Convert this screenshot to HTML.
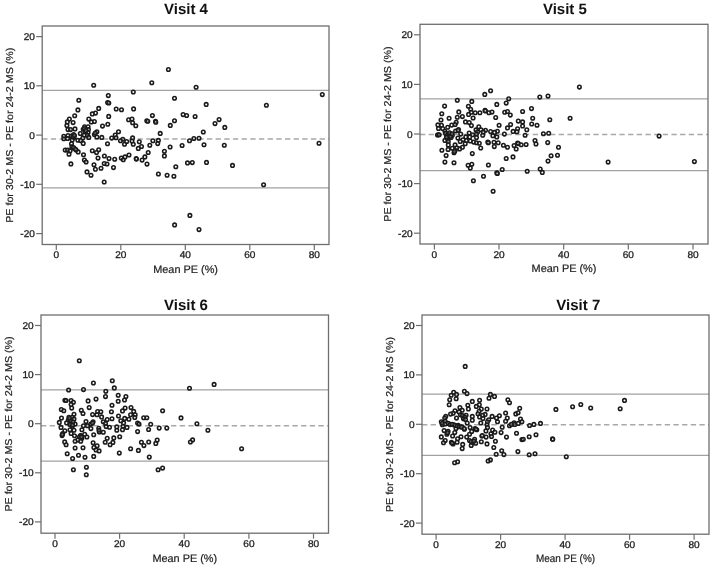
<!DOCTYPE html>
<html><head><meta charset="utf-8"><title>Bland-Altman plots</title>
<style>
html,body{margin:0;padding:0;background:#fff}
svg{display:block;will-change:transform;transform:translateZ(0)}
text{font-family:"Liberation Sans",Arial,sans-serif;fill:#222;text-rendering:geometricPrecision}
.t{font-size:15px;font-weight:bold;fill:#111}
.a{font-size:10px;fill:#222;stroke:#222;stroke-width:.2}
.x{font-size:10.9px;fill:#222;stroke:#222;stroke-width:.2}
.k{font-size:9.8px;fill:#222;stroke:#222;stroke-width:.3}
.f{fill:none;stroke:#6e6e6e;stroke-width:1.3}
.tk{stroke:#6e6e6e;stroke-width:1.2}
.l{stroke:#a2a2a2;stroke-width:1.25}
.d{stroke:#a8a8a8;stroke-width:1.4;stroke-dasharray:5.3 3.37}
.p{fill:#fff;fill-opacity:.3;stroke:#1a1a1a;stroke-width:1.55}
</style></head><body>
<svg width="712" height="567" viewBox="0 0 712 567">
<rect width="712" height="567" fill="#fff"/>
<g>
<text class="t" x="186.0" y="14.0" text-anchor="middle">Visit 4</text>
<line class="l" x1="42.2" x2="329.0" y1="90.3" y2="90.3"/>
<line class="l" x1="42.2" x2="329.0" y1="187.8" y2="187.8"/>
<line class="d" x1="42.2" x2="329.0" y1="139.0" y2="139.0"/>
<rect class="f" x="42.2" y="26.0" width="286.8" height="218.5"/>
<line class="tk" x1="36.2" x2="42.2" y1="36.6" y2="36.6"/>
<text class="k" transform="translate(34.9,40.1) scale(1.03,1)" text-anchor="end">20</text>
<line class="tk" x1="36.2" x2="42.2" y1="85.8" y2="85.8"/>
<text class="k" transform="translate(34.9,89.3) scale(1.03,1)" text-anchor="end">10</text>
<line class="tk" x1="36.2" x2="42.2" y1="135.1" y2="135.1"/>
<text class="k" transform="translate(34.9,138.6) scale(1.03,1)" text-anchor="end">0</text>
<line class="tk" x1="36.2" x2="42.2" y1="184.3" y2="184.3"/>
<text class="k" transform="translate(34.9,187.8) scale(1.03,1)" text-anchor="end">-10</text>
<line class="tk" x1="36.2" x2="42.2" y1="233.6" y2="233.6"/>
<text class="k" transform="translate(34.9,237.1) scale(1.03,1)" text-anchor="end">-20</text>
<line class="tk" x1="56.3" x2="56.3" y1="244.5" y2="250.0"/>
<text class="k" transform="translate(56.3,258.4) scale(1.03,1)" text-anchor="middle">0</text>
<line class="tk" x1="120.8" x2="120.8" y1="244.5" y2="250.0"/>
<text class="k" transform="translate(120.8,258.4) scale(1.03,1)" text-anchor="middle">20</text>
<line class="tk" x1="185.3" x2="185.3" y1="244.5" y2="250.0"/>
<text class="k" transform="translate(185.3,258.4) scale(1.03,1)" text-anchor="middle">40</text>
<line class="tk" x1="249.8" x2="249.8" y1="244.5" y2="250.0"/>
<text class="k" transform="translate(249.8,258.4) scale(1.03,1)" text-anchor="middle">60</text>
<line class="tk" x1="314.3" x2="314.3" y1="244.5" y2="250.0"/>
<text class="k" transform="translate(314.3,258.4) scale(1.03,1)" text-anchor="middle">80</text>
<text class="x" x="185.6" y="273.0" text-anchor="middle" textLength="64.8" lengthAdjust="spacingAndGlyphs">Mean PE (%)</text>
<text class="a" transform="translate(12.7,135.2) rotate(-90)" text-anchor="middle" textLength="175.2" lengthAdjust="spacingAndGlyphs">PE for 30-2 MS - PE for 24-2 MS (%)</text>
<circle class="p" cx="69.4" cy="119.1" r="1.78"/>
<circle class="p" cx="67.3" cy="121.9" r="1.78"/>
<circle class="p" cx="73.1" cy="122.6" r="1.78"/>
<circle class="p" cx="66.9" cy="125.4" r="1.78"/>
<circle class="p" cx="75.0" cy="128.9" r="1.78"/>
<circle class="p" cx="68.0" cy="129.6" r="1.78"/>
<circle class="p" cx="70.5" cy="129.6" r="1.78"/>
<circle class="p" cx="88.8" cy="119.1" r="1.78"/>
<circle class="p" cx="91.3" cy="121.9" r="1.78"/>
<circle class="p" cx="94.4" cy="121.5" r="1.78"/>
<circle class="p" cx="102.5" cy="126.1" r="1.78"/>
<circle class="p" cx="84.6" cy="126.8" r="1.78"/>
<circle class="p" cx="88.1" cy="126.8" r="1.78"/>
<circle class="p" cx="83.2" cy="129.3" r="1.78"/>
<circle class="p" cx="88.4" cy="129.6" r="1.78"/>
<circle class="p" cx="85.3" cy="131.8" r="1.78"/>
<circle class="p" cx="88.1" cy="132.5" r="1.78"/>
<circle class="p" cx="96.9" cy="131.8" r="1.78"/>
<circle class="p" cx="80.3" cy="133.5" r="1.78"/>
<circle class="p" cx="84.2" cy="135.3" r="1.78"/>
<circle class="p" cx="87.4" cy="135.3" r="1.78"/>
<circle class="p" cx="94.4" cy="134.6" r="1.78"/>
<circle class="p" cx="96.9" cy="137.0" r="1.78"/>
<circle class="p" cx="101.8" cy="137.4" r="1.78"/>
<circle class="p" cx="88.8" cy="137.4" r="1.78"/>
<circle class="p" cx="82.8" cy="138.1" r="1.78"/>
<circle class="p" cx="73.6" cy="134.6" r="1.78"/>
<circle class="p" cx="68.0" cy="135.6" r="1.78"/>
<circle class="p" cx="71.2" cy="136.0" r="1.78"/>
<circle class="p" cx="63.8" cy="136.3" r="1.78"/>
<circle class="p" cx="63.8" cy="138.8" r="1.78"/>
<circle class="p" cx="67.6" cy="138.5" r="1.78"/>
<circle class="p" cx="74.0" cy="137.4" r="1.78"/>
<circle class="p" cx="72.2" cy="139.9" r="1.78"/>
<circle class="p" cx="77.9" cy="140.2" r="1.78"/>
<circle class="p" cx="80.7" cy="140.6" r="1.78"/>
<circle class="p" cx="83.2" cy="143.4" r="1.78"/>
<circle class="p" cx="71.5" cy="143.7" r="1.78"/>
<circle class="p" cx="71.9" cy="146.9" r="1.78"/>
<circle class="p" cx="74.0" cy="148.3" r="1.78"/>
<circle class="p" cx="76.1" cy="150.1" r="1.78"/>
<circle class="p" cx="78.2" cy="151.9" r="1.78"/>
<circle class="p" cx="65.2" cy="150.1" r="1.78"/>
<circle class="p" cx="67.6" cy="150.1" r="1.78"/>
<circle class="p" cx="70.1" cy="150.8" r="1.78"/>
<circle class="p" cx="69.0" cy="154.3" r="1.78"/>
<circle class="p" cx="83.5" cy="154.7" r="1.78"/>
<circle class="p" cx="92.3" cy="150.8" r="1.78"/>
<circle class="p" cx="98.7" cy="149.7" r="1.78"/>
<circle class="p" cx="96.5" cy="152.6" r="1.78"/>
<circle class="p" cx="93.7" cy="85.3" r="1.78"/>
<circle class="p" cx="108.3" cy="95.6" r="1.78"/>
<circle class="p" cx="78.8" cy="100.3" r="1.78"/>
<circle class="p" cx="107.6" cy="102.6" r="1.78"/>
<circle class="p" cx="108.8" cy="103.0" r="1.78"/>
<circle class="p" cx="98.7" cy="108.4" r="1.78"/>
<circle class="p" cx="116.2" cy="109.0" r="1.78"/>
<circle class="p" cx="121.5" cy="109.7" r="1.78"/>
<circle class="p" cx="77.9" cy="109.9" r="1.78"/>
<circle class="p" cx="95.5" cy="113.1" r="1.78"/>
<circle class="p" cx="92.3" cy="113.9" r="1.78"/>
<circle class="p" cx="74.7" cy="115.7" r="1.78"/>
<circle class="p" cx="108.7" cy="116.4" r="1.78"/>
<circle class="p" cx="107.8" cy="124.3" r="1.78"/>
<circle class="p" cx="118.5" cy="131.7" r="1.78"/>
<circle class="p" cx="115.2" cy="135.0" r="1.78"/>
<circle class="p" cx="111.7" cy="138.1" r="1.78"/>
<circle class="p" cx="116.0" cy="137.8" r="1.78"/>
<circle class="p" cx="122.8" cy="139.2" r="1.78"/>
<circle class="p" cx="120.5" cy="140.7" r="1.78"/>
<circle class="p" cx="126.7" cy="141.5" r="1.78"/>
<circle class="p" cx="107.5" cy="143.7" r="1.78"/>
<circle class="p" cx="124.5" cy="144.3" r="1.78"/>
<circle class="p" cx="109.0" cy="158.6" r="1.78"/>
<circle class="p" cx="114.7" cy="159.2" r="1.78"/>
<circle class="p" cx="121.3" cy="158.1" r="1.78"/>
<circle class="p" cx="123.3" cy="159.7" r="1.78"/>
<circle class="p" cx="125.0" cy="156.9" r="1.78"/>
<circle class="p" cx="129.0" cy="155.0" r="1.78"/>
<circle class="p" cx="84.4" cy="160.1" r="1.78"/>
<circle class="p" cx="86.1" cy="162.0" r="1.78"/>
<circle class="p" cx="70.9" cy="163.9" r="1.78"/>
<circle class="p" cx="104.2" cy="163.5" r="1.78"/>
<circle class="p" cx="107.0" cy="164.0" r="1.78"/>
<circle class="p" cx="94.0" cy="164.8" r="1.78"/>
<circle class="p" cx="113.5" cy="167.6" r="1.78"/>
<circle class="p" cx="101.0" cy="168.2" r="1.78"/>
<circle class="p" cx="95.4" cy="169.3" r="1.78"/>
<circle class="p" cx="87.0" cy="171.9" r="1.78"/>
<circle class="p" cx="91.0" cy="175.3" r="1.78"/>
<circle class="p" cx="104.2" cy="182.0" r="1.78"/>
<circle class="p" cx="104.4" cy="156.0" r="1.78"/>
<circle class="p" cx="98.0" cy="158.1" r="1.78"/>
<circle class="p" cx="168.4" cy="69.5" r="1.78"/>
<circle class="p" cx="151.8" cy="82.8" r="1.78"/>
<circle class="p" cx="196.1" cy="87.3" r="1.78"/>
<circle class="p" cx="133.3" cy="92.0" r="1.78"/>
<circle class="p" cx="174.5" cy="98.3" r="1.78"/>
<circle class="p" cx="206.2" cy="104.4" r="1.78"/>
<circle class="p" cx="133.6" cy="108.9" r="1.78"/>
<circle class="p" cx="183.1" cy="114.6" r="1.78"/>
<circle class="p" cx="186.6" cy="115.5" r="1.78"/>
<circle class="p" cx="195.1" cy="116.5" r="1.78"/>
<circle class="p" cx="152.4" cy="115.6" r="1.78"/>
<circle class="p" cx="128.6" cy="119.7" r="1.78"/>
<circle class="p" cx="132.0" cy="119.0" r="1.78"/>
<circle class="p" cx="132.6" cy="122.8" r="1.78"/>
<circle class="p" cx="135.8" cy="125.8" r="1.78"/>
<circle class="p" cx="146.8" cy="120.7" r="1.78"/>
<circle class="p" cx="147.8" cy="121.3" r="1.78"/>
<circle class="p" cx="155.5" cy="121.3" r="1.78"/>
<circle class="p" cx="155.8" cy="122.2" r="1.78"/>
<circle class="p" cx="174.5" cy="120.7" r="1.78"/>
<circle class="p" cx="170.3" cy="125.4" r="1.78"/>
<circle class="p" cx="215.0" cy="123.6" r="1.78"/>
<circle class="p" cx="160.2" cy="133.4" r="1.78"/>
<circle class="p" cx="203.3" cy="132.0" r="1.78"/>
<circle class="p" cx="132.6" cy="137.9" r="1.78"/>
<circle class="p" cx="132.0" cy="141.0" r="1.78"/>
<circle class="p" cx="133.3" cy="144.2" r="1.78"/>
<circle class="p" cx="139.3" cy="141.7" r="1.78"/>
<circle class="p" cx="141.5" cy="146.5" r="1.78"/>
<circle class="p" cx="138.3" cy="148.4" r="1.78"/>
<circle class="p" cx="152.9" cy="140.8" r="1.78"/>
<circle class="p" cx="158.4" cy="140.4" r="1.78"/>
<circle class="p" cx="157.7" cy="143.6" r="1.78"/>
<circle class="p" cx="149.8" cy="145.2" r="1.78"/>
<circle class="p" cx="148.2" cy="152.5" r="1.78"/>
<circle class="p" cx="144.9" cy="156.9" r="1.78"/>
<circle class="p" cx="142.1" cy="160.1" r="1.78"/>
<circle class="p" cx="136.2" cy="158.6" r="1.78"/>
<circle class="p" cx="136.4" cy="159.1" r="1.78"/>
<circle class="p" cx="147.0" cy="164.1" r="1.78"/>
<circle class="p" cx="164.4" cy="151.2" r="1.78"/>
<circle class="p" cx="164.4" cy="155.9" r="1.78"/>
<circle class="p" cx="170.1" cy="147.0" r="1.78"/>
<circle class="p" cx="182.1" cy="145.5" r="1.78"/>
<circle class="p" cx="189.5" cy="140.7" r="1.78"/>
<circle class="p" cx="193.9" cy="138.5" r="1.78"/>
<circle class="p" cx="199.0" cy="138.2" r="1.78"/>
<circle class="p" cx="204.0" cy="144.8" r="1.78"/>
<circle class="p" cx="187.5" cy="162.9" r="1.78"/>
<circle class="p" cx="192.3" cy="162.6" r="1.78"/>
<circle class="p" cx="206.5" cy="162.4" r="1.78"/>
<circle class="p" cx="175.8" cy="166.7" r="1.78"/>
<circle class="p" cx="158.4" cy="174.0" r="1.78"/>
<circle class="p" cx="167.1" cy="175.3" r="1.78"/>
<circle class="p" cx="173.9" cy="176.3" r="1.78"/>
<circle class="p" cx="322.3" cy="94.6" r="1.78"/>
<circle class="p" cx="266.4" cy="105.3" r="1.78"/>
<circle class="p" cx="219.1" cy="119.6" r="1.78"/>
<circle class="p" cx="224.8" cy="127.4" r="1.78"/>
<circle class="p" cx="224.3" cy="145.2" r="1.78"/>
<circle class="p" cx="319.0" cy="143.2" r="1.78"/>
<circle class="p" cx="232.5" cy="165.4" r="1.78"/>
<circle class="p" cx="263.6" cy="184.7" r="1.78"/>
<circle class="p" cx="189.9" cy="215.4" r="1.78"/>
<circle class="p" cx="174.6" cy="224.9" r="1.78"/>
<circle class="p" cx="199.0" cy="229.6" r="1.78"/>
<circle class="p" cx="73.0" cy="136.8" r="1.78"/>
<circle class="p" cx="74.5" cy="135.5" r="1.78"/>
<circle class="p" cx="95.3" cy="133.0" r="1.78"/>
<circle class="p" cx="84.5" cy="128.5" r="1.78"/>
<circle class="p" cx="86.0" cy="130.5" r="1.78"/>
<circle class="p" cx="73.5" cy="147.5" r="1.78"/>
<circle class="p" cx="75.5" cy="149.3" r="1.78"/>
</g>
<g>
<text class="t" x="564.9" y="13.8" text-anchor="middle">Visit 5</text>
<line class="l" x1="420.0" x2="708.0" y1="98.8" y2="98.8"/>
<line class="l" x1="420.0" x2="708.0" y1="170.7" y2="170.7"/>
<line class="d" x1="420.0" x2="708.0" y1="134.5" y2="134.5"/>
<rect class="f" x="420.0" y="24.3" width="288.0" height="219.7"/>
<line class="tk" x1="414.0" x2="420.0" y1="34.8" y2="34.8"/>
<text class="k" transform="translate(412.7,38.3) scale(1.03,1)" text-anchor="end">20</text>
<line class="tk" x1="414.0" x2="420.0" y1="84.4" y2="84.4"/>
<text class="k" transform="translate(412.7,87.9) scale(1.03,1)" text-anchor="end">10</text>
<line class="tk" x1="414.0" x2="420.0" y1="134.0" y2="134.0"/>
<text class="k" transform="translate(412.7,137.5) scale(1.03,1)" text-anchor="end">0</text>
<line class="tk" x1="414.0" x2="420.0" y1="183.6" y2="183.6"/>
<text class="k" transform="translate(412.7,187.1) scale(1.03,1)" text-anchor="end">-10</text>
<line class="tk" x1="414.0" x2="420.0" y1="233.2" y2="233.2"/>
<text class="k" transform="translate(412.7,236.7) scale(1.03,1)" text-anchor="end">-20</text>
<line class="tk" x1="434.4" x2="434.4" y1="244.0" y2="249.5"/>
<text class="k" transform="translate(434.4,257.9) scale(1.03,1)" text-anchor="middle">0</text>
<line class="tk" x1="499.0" x2="499.0" y1="244.0" y2="249.5"/>
<text class="k" transform="translate(499.0,257.9) scale(1.03,1)" text-anchor="middle">20</text>
<line class="tk" x1="563.7" x2="563.7" y1="244.0" y2="249.5"/>
<text class="k" transform="translate(563.7,257.9) scale(1.03,1)" text-anchor="middle">40</text>
<line class="tk" x1="628.3" x2="628.3" y1="244.0" y2="249.5"/>
<text class="k" transform="translate(628.3,257.9) scale(1.03,1)" text-anchor="middle">60</text>
<line class="tk" x1="693.0" x2="693.0" y1="244.0" y2="249.5"/>
<text class="k" transform="translate(693.0,257.9) scale(1.03,1)" text-anchor="middle">80</text>
<text class="x" x="564.0" y="271.7" text-anchor="middle" textLength="64.8" lengthAdjust="spacingAndGlyphs">Mean PE (%)</text>
<text class="a" transform="translate(390.5,134.1) rotate(-90)" text-anchor="middle" textLength="175.2" lengthAdjust="spacingAndGlyphs">PE for 30-2 MS - PE for 24-2 MS (%)</text>
<circle class="p" cx="490.6" cy="90.7" r="1.78"/>
<circle class="p" cx="484.8" cy="94.4" r="1.78"/>
<circle class="p" cx="457.3" cy="100.3" r="1.78"/>
<circle class="p" cx="471.8" cy="101.4" r="1.78"/>
<circle class="p" cx="508.7" cy="98.8" r="1.78"/>
<circle class="p" cx="506.2" cy="103.1" r="1.78"/>
<circle class="p" cx="496.8" cy="104.4" r="1.78"/>
<circle class="p" cx="444.6" cy="106.1" r="1.78"/>
<circle class="p" cx="468.4" cy="106.2" r="1.78"/>
<circle class="p" cx="470.7" cy="109.3" r="1.78"/>
<circle class="p" cx="458.8" cy="111.9" r="1.78"/>
<circle class="p" cx="471.4" cy="112.3" r="1.78"/>
<circle class="p" cx="475.2" cy="112.7" r="1.78"/>
<circle class="p" cx="479.9" cy="112.7" r="1.78"/>
<circle class="p" cx="485.0" cy="110.4" r="1.78"/>
<circle class="p" cx="485.5" cy="111.0" r="1.78"/>
<circle class="p" cx="488.9" cy="112.7" r="1.78"/>
<circle class="p" cx="492.0" cy="112.1" r="1.78"/>
<circle class="p" cx="504.7" cy="112.3" r="1.78"/>
<circle class="p" cx="507.5" cy="111.5" r="1.78"/>
<circle class="p" cx="441.8" cy="113.8" r="1.78"/>
<circle class="p" cx="468.6" cy="114.4" r="1.78"/>
<circle class="p" cx="457.3" cy="117.2" r="1.78"/>
<circle class="p" cx="462.4" cy="116.6" r="1.78"/>
<circle class="p" cx="449.1" cy="118.3" r="1.78"/>
<circle class="p" cx="473.1" cy="118.0" r="1.78"/>
<circle class="p" cx="495.7" cy="117.5" r="1.78"/>
<circle class="p" cx="441.0" cy="120.0" r="1.78"/>
<circle class="p" cx="465.5" cy="121.9" r="1.78"/>
<circle class="p" cx="469.2" cy="122.6" r="1.78"/>
<circle class="p" cx="456.2" cy="122.3" r="1.78"/>
<circle class="p" cx="471.4" cy="125.6" r="1.78"/>
<circle class="p" cx="499.1" cy="125.3" r="1.78"/>
<circle class="p" cx="437.9" cy="124.9" r="1.78"/>
<circle class="p" cx="441.5" cy="125.3" r="1.78"/>
<circle class="p" cx="451.7" cy="125.1" r="1.78"/>
<circle class="p" cx="455.1" cy="124.5" r="1.78"/>
<circle class="p" cx="447.7" cy="127.3" r="1.78"/>
<circle class="p" cx="478.8" cy="126.8" r="1.78"/>
<circle class="p" cx="507.5" cy="127.9" r="1.78"/>
<circle class="p" cx="438.5" cy="128.5" r="1.78"/>
<circle class="p" cx="442.7" cy="128.5" r="1.78"/>
<circle class="p" cx="458.5" cy="129.6" r="1.78"/>
<circle class="p" cx="455.6" cy="131.0" r="1.78"/>
<circle class="p" cx="476.0" cy="129.9" r="1.78"/>
<circle class="p" cx="481.0" cy="129.8" r="1.78"/>
<circle class="p" cx="485.5" cy="130.2" r="1.78"/>
<circle class="p" cx="444.9" cy="131.3" r="1.78"/>
<circle class="p" cx="477.6" cy="131.9" r="1.78"/>
<circle class="p" cx="483.3" cy="131.9" r="1.78"/>
<circle class="p" cx="490.6" cy="131.5" r="1.78"/>
<circle class="p" cx="497.4" cy="131.3" r="1.78"/>
<circle class="p" cx="494.6" cy="132.4" r="1.78"/>
<circle class="p" cx="469.2" cy="133.0" r="1.78"/>
<circle class="p" cx="472.6" cy="134.7" r="1.78"/>
<circle class="p" cx="460.7" cy="134.1" r="1.78"/>
<circle class="p" cx="476.5" cy="134.1" r="1.78"/>
<circle class="p" cx="482.7" cy="135.2" r="1.78"/>
<circle class="p" cx="492.9" cy="135.8" r="1.78"/>
<circle class="p" cx="504.4" cy="134.1" r="1.78"/>
<circle class="p" cx="438.2" cy="134.7" r="1.78"/>
<circle class="p" cx="446.1" cy="134.1" r="1.78"/>
<circle class="p" cx="450.0" cy="134.7" r="1.78"/>
<circle class="p" cx="452.3" cy="135.2" r="1.78"/>
<circle class="p" cx="465.8" cy="136.9" r="1.78"/>
<circle class="p" cx="469.7" cy="136.9" r="1.78"/>
<circle class="p" cx="476.5" cy="137.5" r="1.78"/>
<circle class="p" cx="457.9" cy="138.1" r="1.78"/>
<circle class="p" cx="496.8" cy="136.9" r="1.78"/>
<circle class="p" cx="447.2" cy="137.5" r="1.78"/>
<circle class="p" cx="451.1" cy="137.5" r="1.78"/>
<circle class="p" cx="463.0" cy="139.8" r="1.78"/>
<circle class="p" cx="444.9" cy="140.4" r="1.78"/>
<circle class="p" cx="447.7" cy="139.3" r="1.78"/>
<circle class="p" cx="448.3" cy="141.5" r="1.78"/>
<circle class="p" cx="460.2" cy="141.5" r="1.78"/>
<circle class="p" cx="466.4" cy="140.4" r="1.78"/>
<circle class="p" cx="470.3" cy="141.0" r="1.78"/>
<circle class="p" cx="473.7" cy="142.1" r="1.78"/>
<circle class="p" cx="476.5" cy="142.7" r="1.78"/>
<circle class="p" cx="479.3" cy="143.2" r="1.78"/>
<circle class="p" cx="487.8" cy="142.1" r="1.78"/>
<circle class="p" cx="488.4" cy="142.7" r="1.78"/>
<circle class="p" cx="494.0" cy="142.3" r="1.78"/>
<circle class="p" cx="498.2" cy="142.7" r="1.78"/>
<circle class="p" cx="503.4" cy="145.3" r="1.78"/>
<circle class="p" cx="507.5" cy="147.2" r="1.78"/>
<circle class="p" cx="494.3" cy="146.6" r="1.78"/>
<circle class="p" cx="480.7" cy="148.0" r="1.78"/>
<circle class="p" cx="448.3" cy="144.9" r="1.78"/>
<circle class="p" cx="455.1" cy="144.9" r="1.78"/>
<circle class="p" cx="465.2" cy="143.8" r="1.78"/>
<circle class="p" cx="462.4" cy="147.2" r="1.78"/>
<circle class="p" cx="459.6" cy="148.9" r="1.78"/>
<circle class="p" cx="456.8" cy="147.7" r="1.78"/>
<circle class="p" cx="452.3" cy="148.3" r="1.78"/>
<circle class="p" cx="455.1" cy="150.6" r="1.78"/>
<circle class="p" cx="454.0" cy="152.8" r="1.78"/>
<circle class="p" cx="448.1" cy="149.4" r="1.78"/>
<circle class="p" cx="441.9" cy="150.2" r="1.78"/>
<circle class="p" cx="446.1" cy="155.6" r="1.78"/>
<circle class="p" cx="472.3" cy="153.6" r="1.78"/>
<circle class="p" cx="444.9" cy="162.1" r="1.78"/>
<circle class="p" cx="454.0" cy="162.8" r="1.78"/>
<circle class="p" cx="506.2" cy="158.5" r="1.78"/>
<circle class="p" cx="468.1" cy="165.2" r="1.78"/>
<circle class="p" cx="471.8" cy="164.3" r="1.78"/>
<circle class="p" cx="470.3" cy="168.1" r="1.78"/>
<circle class="p" cx="488.4" cy="165.0" r="1.78"/>
<circle class="p" cx="502.2" cy="169.5" r="1.78"/>
<circle class="p" cx="496.8" cy="172.9" r="1.78"/>
<circle class="p" cx="497.4" cy="173.4" r="1.78"/>
<circle class="p" cx="483.5" cy="176.2" r="1.78"/>
<circle class="p" cx="473.4" cy="180.8" r="1.78"/>
<circle class="p" cx="493.1" cy="191.2" r="1.78"/>
<circle class="p" cx="579.4" cy="87.1" r="1.78"/>
<circle class="p" cx="548.0" cy="96.1" r="1.78"/>
<circle class="p" cx="539.8" cy="97.1" r="1.78"/>
<circle class="p" cx="531.5" cy="108.6" r="1.78"/>
<circle class="p" cx="522.6" cy="111.5" r="1.78"/>
<circle class="p" cx="510.3" cy="115.1" r="1.78"/>
<circle class="p" cx="532.7" cy="118.2" r="1.78"/>
<circle class="p" cx="549.8" cy="119.8" r="1.78"/>
<circle class="p" cx="570.1" cy="118.2" r="1.78"/>
<circle class="p" cx="518.3" cy="121.1" r="1.78"/>
<circle class="p" cx="522.6" cy="121.9" r="1.78"/>
<circle class="p" cx="531.7" cy="124.0" r="1.78"/>
<circle class="p" cx="537.0" cy="125.3" r="1.78"/>
<circle class="p" cx="522.6" cy="126.0" r="1.78"/>
<circle class="p" cx="510.6" cy="124.6" r="1.78"/>
<circle class="p" cx="517.6" cy="128.8" r="1.78"/>
<circle class="p" cx="526.8" cy="129.7" r="1.78"/>
<circle class="p" cx="513.1" cy="131.4" r="1.78"/>
<circle class="p" cx="516.9" cy="131.8" r="1.78"/>
<circle class="p" cx="525.1" cy="135.3" r="1.78"/>
<circle class="p" cx="543.4" cy="133.8" r="1.78"/>
<circle class="p" cx="548.7" cy="133.3" r="1.78"/>
<circle class="p" cx="535.0" cy="140.5" r="1.78"/>
<circle class="p" cx="536.0" cy="144.0" r="1.78"/>
<circle class="p" cx="547.7" cy="142.6" r="1.78"/>
<circle class="p" cx="558.5" cy="147.3" r="1.78"/>
<circle class="p" cx="517.6" cy="143.1" r="1.78"/>
<circle class="p" cx="518.3" cy="143.6" r="1.78"/>
<circle class="p" cx="526.1" cy="144.5" r="1.78"/>
<circle class="p" cx="521.2" cy="144.8" r="1.78"/>
<circle class="p" cx="514.1" cy="145.5" r="1.78"/>
<circle class="p" cx="516.2" cy="149.0" r="1.78"/>
<circle class="p" cx="557.5" cy="155.3" r="1.78"/>
<circle class="p" cx="551.1" cy="155.7" r="1.78"/>
<circle class="p" cx="548.0" cy="161.1" r="1.78"/>
<circle class="p" cx="513.0" cy="156.9" r="1.78"/>
<circle class="p" cx="527.2" cy="171.3" r="1.78"/>
<circle class="p" cx="540.2" cy="169.1" r="1.78"/>
<circle class="p" cx="542.3" cy="172.4" r="1.78"/>
<circle class="p" cx="659.1" cy="136.1" r="1.78"/>
<circle class="p" cx="608.1" cy="162.1" r="1.78"/>
<circle class="p" cx="694.4" cy="161.6" r="1.78"/>
<circle class="p" cx="437.5" cy="135.0" r="1.78"/>
<circle class="p" cx="439.2" cy="134.8" r="1.78"/>
<circle class="p" cx="445.5" cy="133.2" r="1.78"/>
<circle class="p" cx="447.0" cy="135.5" r="1.78"/>
<circle class="p" cx="448.8" cy="134.0" r="1.78"/>
<circle class="p" cx="450.5" cy="136.2" r="1.78"/>
<circle class="p" cx="449.5" cy="132.8" r="1.78"/>
<circle class="p" cx="446.5" cy="137.2" r="1.78"/>
<circle class="p" cx="452.0" cy="133.8" r="1.78"/>
<circle class="p" cx="458.0" cy="130.5" r="1.78"/>
<circle class="p" cx="454.5" cy="151.5" r="1.78"/>
</g>
<g>
<text class="t" x="186.0" y="309.9" text-anchor="middle">Visit 6</text>
<line class="l" x1="41.0" x2="328.5" y1="389.8" y2="389.8"/>
<line class="l" x1="41.0" x2="328.5" y1="461.0" y2="461.0"/>
<line class="d" x1="41.0" x2="328.5" y1="425.7" y2="425.7"/>
<rect class="f" x="41.0" y="315.0" width="287.5" height="218.2"/>
<line class="tk" x1="35.0" x2="41.0" y1="325.5" y2="325.5"/>
<text class="k" transform="translate(33.7,329.0) scale(1.03,1)" text-anchor="end">20</text>
<line class="tk" x1="35.0" x2="41.0" y1="374.6" y2="374.6"/>
<text class="k" transform="translate(33.7,378.1) scale(1.03,1)" text-anchor="end">10</text>
<line class="tk" x1="35.0" x2="41.0" y1="423.7" y2="423.7"/>
<text class="k" transform="translate(33.7,427.2) scale(1.03,1)" text-anchor="end">0</text>
<line class="tk" x1="35.0" x2="41.0" y1="472.8" y2="472.8"/>
<text class="k" transform="translate(33.7,476.3) scale(1.03,1)" text-anchor="end">-10</text>
<line class="tk" x1="35.0" x2="41.0" y1="521.9" y2="521.9"/>
<text class="k" transform="translate(33.7,525.4) scale(1.03,1)" text-anchor="end">-20</text>
<line class="tk" x1="55.0" x2="55.0" y1="533.2" y2="538.7"/>
<text class="k" transform="translate(55.0,547.1) scale(1.03,1)" text-anchor="middle">0</text>
<line class="tk" x1="119.6" x2="119.6" y1="533.2" y2="538.7"/>
<text class="k" transform="translate(119.6,547.1) scale(1.03,1)" text-anchor="middle">20</text>
<line class="tk" x1="184.2" x2="184.2" y1="533.2" y2="538.7"/>
<text class="k" transform="translate(184.2,547.1) scale(1.03,1)" text-anchor="middle">40</text>
<line class="tk" x1="248.9" x2="248.9" y1="533.2" y2="538.7"/>
<text class="k" transform="translate(248.9,547.1) scale(1.03,1)" text-anchor="middle">60</text>
<line class="tk" x1="313.5" x2="313.5" y1="533.2" y2="538.7"/>
<text class="k" transform="translate(313.5,547.1) scale(1.03,1)" text-anchor="middle">80</text>
<text class="x" x="184.8" y="561.7" text-anchor="middle" textLength="64.8" lengthAdjust="spacingAndGlyphs">Mean PE (%)</text>
<text class="a" transform="translate(11.5,424.0) rotate(-90)" text-anchor="middle" textLength="175.2" lengthAdjust="spacingAndGlyphs">PE for 30-2 MS - PE for 24-2 MS (%)</text>
<circle class="p" cx="79.3" cy="360.7" r="1.78"/>
<circle class="p" cx="112.3" cy="380.8" r="1.78"/>
<circle class="p" cx="93.4" cy="383.0" r="1.78"/>
<circle class="p" cx="114.3" cy="387.9" r="1.78"/>
<circle class="p" cx="68.6" cy="390.0" r="1.78"/>
<circle class="p" cx="83.5" cy="389.6" r="1.78"/>
<circle class="p" cx="105.8" cy="391.3" r="1.78"/>
<circle class="p" cx="118.2" cy="395.2" r="1.78"/>
<circle class="p" cx="105.5" cy="396.6" r="1.78"/>
<circle class="p" cx="125.9" cy="396.6" r="1.78"/>
<circle class="p" cx="96.0" cy="399.1" r="1.78"/>
<circle class="p" cx="124.5" cy="400.0" r="1.78"/>
<circle class="p" cx="88.1" cy="400.9" r="1.78"/>
<circle class="p" cx="118.2" cy="401.3" r="1.78"/>
<circle class="p" cx="64.9" cy="400.3" r="1.78"/>
<circle class="p" cx="66.1" cy="400.5" r="1.78"/>
<circle class="p" cx="71.1" cy="400.5" r="1.78"/>
<circle class="p" cx="73.4" cy="402.2" r="1.78"/>
<circle class="p" cx="71.1" cy="404.5" r="1.78"/>
<circle class="p" cx="112.0" cy="405.3" r="1.78"/>
<circle class="p" cx="71.7" cy="408.1" r="1.78"/>
<circle class="p" cx="89.2" cy="407.6" r="1.78"/>
<circle class="p" cx="125.1" cy="408.1" r="1.78"/>
<circle class="p" cx="61.3" cy="409.5" r="1.78"/>
<circle class="p" cx="63.8" cy="410.7" r="1.78"/>
<circle class="p" cx="81.3" cy="410.3" r="1.78"/>
<circle class="p" cx="122.5" cy="410.9" r="1.78"/>
<circle class="p" cx="97.6" cy="411.5" r="1.78"/>
<circle class="p" cx="100.8" cy="411.8" r="1.78"/>
<circle class="p" cx="111.4" cy="411.8" r="1.78"/>
<circle class="p" cx="83.0" cy="413.5" r="1.78"/>
<circle class="p" cx="74.0" cy="414.3" r="1.78"/>
<circle class="p" cx="92.6" cy="414.6" r="1.78"/>
<circle class="p" cx="118.5" cy="416.0" r="1.78"/>
<circle class="p" cx="97.0" cy="414.8" r="1.78"/>
<circle class="p" cx="101.6" cy="416.9" r="1.78"/>
<circle class="p" cx="112.0" cy="418.8" r="1.78"/>
<circle class="p" cx="61.5" cy="418.1" r="1.78"/>
<circle class="p" cx="68.9" cy="417.3" r="1.78"/>
<circle class="p" cx="72.3" cy="417.3" r="1.78"/>
<circle class="p" cx="68.3" cy="420.1" r="1.78"/>
<circle class="p" cx="74.0" cy="419.0" r="1.78"/>
<circle class="p" cx="124.7" cy="418.4" r="1.78"/>
<circle class="p" cx="120.8" cy="420.7" r="1.78"/>
<circle class="p" cx="107.2" cy="419.5" r="1.78"/>
<circle class="p" cx="103.3" cy="421.8" r="1.78"/>
<circle class="p" cx="86.0" cy="421.5" r="1.78"/>
<circle class="p" cx="93.1" cy="421.8" r="1.78"/>
<circle class="p" cx="59.3" cy="422.4" r="1.78"/>
<circle class="p" cx="66.6" cy="422.9" r="1.78"/>
<circle class="p" cx="71.1" cy="423.5" r="1.78"/>
<circle class="p" cx="75.1" cy="424.1" r="1.78"/>
<circle class="p" cx="90.9" cy="424.1" r="1.78"/>
<circle class="p" cx="105.5" cy="423.5" r="1.78"/>
<circle class="p" cx="123.6" cy="422.9" r="1.78"/>
<circle class="p" cx="83.5" cy="425.7" r="1.78"/>
<circle class="p" cx="87.5" cy="425.7" r="1.78"/>
<circle class="p" cx="72.3" cy="426.3" r="1.78"/>
<circle class="p" cx="106.1" cy="426.6" r="1.78"/>
<circle class="p" cx="109.5" cy="427.2" r="1.78"/>
<circle class="p" cx="116.8" cy="426.9" r="1.78"/>
<circle class="p" cx="123.0" cy="426.3" r="1.78"/>
<circle class="p" cx="127.0" cy="427.4" r="1.78"/>
<circle class="p" cx="61.0" cy="427.4" r="1.78"/>
<circle class="p" cx="90.9" cy="428.6" r="1.78"/>
<circle class="p" cx="98.8" cy="428.3" r="1.78"/>
<circle class="p" cx="81.9" cy="429.7" r="1.78"/>
<circle class="p" cx="70.0" cy="429.7" r="1.78"/>
<circle class="p" cx="74.0" cy="430.3" r="1.78"/>
<circle class="p" cx="122.5" cy="429.7" r="1.78"/>
<circle class="p" cx="116.8" cy="430.3" r="1.78"/>
<circle class="p" cx="64.9" cy="430.8" r="1.78"/>
<circle class="p" cx="99.3" cy="432.0" r="1.78"/>
<circle class="p" cx="103.3" cy="432.3" r="1.78"/>
<circle class="p" cx="62.7" cy="433.6" r="1.78"/>
<circle class="p" cx="71.1" cy="433.4" r="1.78"/>
<circle class="p" cx="62.1" cy="435.6" r="1.78"/>
<circle class="p" cx="74.5" cy="435.7" r="1.78"/>
<circle class="p" cx="93.7" cy="434.8" r="1.78"/>
<circle class="p" cx="84.7" cy="434.2" r="1.78"/>
<circle class="p" cx="80.7" cy="435.9" r="1.78"/>
<circle class="p" cx="86.9" cy="437.0" r="1.78"/>
<circle class="p" cx="119.7" cy="436.8" r="1.78"/>
<circle class="p" cx="107.2" cy="438.2" r="1.78"/>
<circle class="p" cx="113.8" cy="437.9" r="1.78"/>
<circle class="p" cx="81.9" cy="438.2" r="1.78"/>
<circle class="p" cx="77.9" cy="439.9" r="1.78"/>
<circle class="p" cx="75.1" cy="441.2" r="1.78"/>
<circle class="p" cx="80.7" cy="441.2" r="1.78"/>
<circle class="p" cx="64.7" cy="441.9" r="1.78"/>
<circle class="p" cx="66.1" cy="444.7" r="1.78"/>
<circle class="p" cx="105.2" cy="442.3" r="1.78"/>
<circle class="p" cx="112.9" cy="442.4" r="1.78"/>
<circle class="p" cx="110.1" cy="444.7" r="1.78"/>
<circle class="p" cx="93.1" cy="442.7" r="1.78"/>
<circle class="p" cx="97.1" cy="445.7" r="1.78"/>
<circle class="p" cx="93.9" cy="447.5" r="1.78"/>
<circle class="p" cx="96.0" cy="450.0" r="1.78"/>
<circle class="p" cx="99.1" cy="450.9" r="1.78"/>
<circle class="p" cx="75.1" cy="448.0" r="1.78"/>
<circle class="p" cx="83.0" cy="447.7" r="1.78"/>
<circle class="p" cx="119.3" cy="453.1" r="1.78"/>
<circle class="p" cx="67.2" cy="453.7" r="1.78"/>
<circle class="p" cx="78.5" cy="455.3" r="1.78"/>
<circle class="p" cx="93.7" cy="456.4" r="1.78"/>
<circle class="p" cx="85.0" cy="457.3" r="1.78"/>
<circle class="p" cx="72.6" cy="458.5" r="1.78"/>
<circle class="p" cx="86.4" cy="467.3" r="1.78"/>
<circle class="p" cx="73.4" cy="469.8" r="1.78"/>
<circle class="p" cx="86.3" cy="474.8" r="1.78"/>
<circle class="p" cx="158.1" cy="469.7" r="1.78"/>
<circle class="p" cx="162.6" cy="468.1" r="1.78"/>
<circle class="p" cx="149.3" cy="457.1" r="1.78"/>
<circle class="p" cx="130.6" cy="448.8" r="1.78"/>
<circle class="p" cx="138.4" cy="450.4" r="1.78"/>
<circle class="p" cx="143.9" cy="445.6" r="1.78"/>
<circle class="p" cx="141.4" cy="442.3" r="1.78"/>
<circle class="p" cx="148.7" cy="442.0" r="1.78"/>
<circle class="p" cx="155.8" cy="443.4" r="1.78"/>
<circle class="p" cx="157.2" cy="440.0" r="1.78"/>
<circle class="p" cx="214.1" cy="384.4" r="1.78"/>
<circle class="p" cx="189.5" cy="388.3" r="1.78"/>
<circle class="p" cx="131.0" cy="407.6" r="1.78"/>
<circle class="p" cx="133.7" cy="411.4" r="1.78"/>
<circle class="p" cx="130.6" cy="414.7" r="1.78"/>
<circle class="p" cx="135.2" cy="414.7" r="1.78"/>
<circle class="p" cx="134.8" cy="417.5" r="1.78"/>
<circle class="p" cx="162.6" cy="410.7" r="1.78"/>
<circle class="p" cx="181.0" cy="417.9" r="1.78"/>
<circle class="p" cx="143.7" cy="417.8" r="1.78"/>
<circle class="p" cx="146.8" cy="417.8" r="1.78"/>
<circle class="p" cx="128.9" cy="419.3" r="1.78"/>
<circle class="p" cx="137.6" cy="423.1" r="1.78"/>
<circle class="p" cx="139.0" cy="424.1" r="1.78"/>
<circle class="p" cx="150.7" cy="424.3" r="1.78"/>
<circle class="p" cx="196.9" cy="423.8" r="1.78"/>
<circle class="p" cx="159.2" cy="428.1" r="1.78"/>
<circle class="p" cx="166.8" cy="428.1" r="1.78"/>
<circle class="p" cx="148.6" cy="429.5" r="1.78"/>
<circle class="p" cx="137.6" cy="431.6" r="1.78"/>
<circle class="p" cx="207.9" cy="430.3" r="1.78"/>
<circle class="p" cx="192.6" cy="439.9" r="1.78"/>
<circle class="p" cx="190.4" cy="442.0" r="1.78"/>
<circle class="p" cx="241.6" cy="448.7" r="1.78"/>
<circle class="p" cx="69.5" cy="418.5" r="1.78"/>
<circle class="p" cx="71.0" cy="421.0" r="1.78"/>
<circle class="p" cx="70.0" cy="424.5" r="1.78"/>
<circle class="p" cx="73.0" cy="422.0" r="1.78"/>
<circle class="p" cx="72.5" cy="425.0" r="1.78"/>
<circle class="p" cx="80.5" cy="435.5" r="1.78"/>
<circle class="p" cx="79.5" cy="436.8" r="1.78"/>
<circle class="p" cx="81.5" cy="436.9" r="1.78"/>
<circle class="p" cx="62.3" cy="434.5" r="1.78"/>
<circle class="p" cx="92.5" cy="423.0" r="1.78"/>
<circle class="p" cx="99.0" cy="430.2" r="1.78"/>
</g>
<g>
<text class="t" x="578.3" y="309.9" text-anchor="middle">Visit 7</text>
<line class="l" x1="422.0" x2="709.0" y1="394.2" y2="394.2"/>
<line class="l" x1="422.0" x2="709.0" y1="455.4" y2="455.4"/>
<line class="d" x1="422.0" x2="709.0" y1="424.8" y2="424.8"/>
<rect class="f" x="422.0" y="315.0" width="287.0" height="219.2"/>
<line class="tk" x1="416.0" x2="422.0" y1="325.5" y2="325.5"/>
<text class="k" transform="translate(414.7,329.0) scale(1.03,1)" text-anchor="end">20</text>
<line class="tk" x1="416.0" x2="422.0" y1="374.9" y2="374.9"/>
<text class="k" transform="translate(414.7,378.4) scale(1.03,1)" text-anchor="end">10</text>
<line class="tk" x1="416.0" x2="422.0" y1="424.3" y2="424.3"/>
<text class="k" transform="translate(414.7,427.8) scale(1.03,1)" text-anchor="end">0</text>
<line class="tk" x1="416.0" x2="422.0" y1="473.7" y2="473.7"/>
<text class="k" transform="translate(414.7,477.2) scale(1.03,1)" text-anchor="end">-10</text>
<line class="tk" x1="416.0" x2="422.0" y1="523.1" y2="523.1"/>
<text class="k" transform="translate(414.7,526.6) scale(1.03,1)" text-anchor="end">-20</text>
<line class="tk" x1="436.1" x2="436.1" y1="534.2" y2="539.7"/>
<text class="k" transform="translate(436.1,547.6) scale(1.03,1)" text-anchor="middle">0</text>
<line class="tk" x1="500.6" x2="500.6" y1="534.2" y2="539.7"/>
<text class="k" transform="translate(500.6,547.6) scale(1.03,1)" text-anchor="middle">20</text>
<line class="tk" x1="565.1" x2="565.1" y1="534.2" y2="539.7"/>
<text class="k" transform="translate(565.1,547.6) scale(1.03,1)" text-anchor="middle">40</text>
<line class="tk" x1="629.6" x2="629.6" y1="534.2" y2="539.7"/>
<text class="k" transform="translate(629.6,547.6) scale(1.03,1)" text-anchor="middle">60</text>
<line class="tk" x1="694.1" x2="694.1" y1="534.2" y2="539.7"/>
<text class="k" transform="translate(694.1,547.6) scale(1.03,1)" text-anchor="middle">80</text>
<text class="x" x="565.5" y="561.9" text-anchor="middle" textLength="59.2" lengthAdjust="spacingAndGlyphs">Mean PE (%)</text>
<text class="a" transform="translate(392.5,424.5) rotate(-90)" text-anchor="middle" textLength="175.2" lengthAdjust="spacingAndGlyphs">PE for 30-2 MS - PE for 24-2 MS (%)</text>
<circle class="p" cx="465.2" cy="366.4" r="1.78"/>
<circle class="p" cx="464.4" cy="391.3" r="1.78"/>
<circle class="p" cx="467.0" cy="393.6" r="1.78"/>
<circle class="p" cx="453.7" cy="392.3" r="1.78"/>
<circle class="p" cx="456.5" cy="394.4" r="1.78"/>
<circle class="p" cx="451.2" cy="395.2" r="1.78"/>
<circle class="p" cx="490.4" cy="394.4" r="1.78"/>
<circle class="p" cx="494.5" cy="396.4" r="1.78"/>
<circle class="p" cx="489.0" cy="398.3" r="1.78"/>
<circle class="p" cx="456.2" cy="398.7" r="1.78"/>
<circle class="p" cx="449.7" cy="399.7" r="1.78"/>
<circle class="p" cx="507.9" cy="399.7" r="1.78"/>
<circle class="p" cx="479.6" cy="400.2" r="1.78"/>
<circle class="p" cx="472.3" cy="401.4" r="1.78"/>
<circle class="p" cx="509.5" cy="402.8" r="1.78"/>
<circle class="p" cx="449.2" cy="404.7" r="1.78"/>
<circle class="p" cx="479.3" cy="404.7" r="1.78"/>
<circle class="p" cx="467.8" cy="405.3" r="1.78"/>
<circle class="p" cx="476.3" cy="406.4" r="1.78"/>
<circle class="p" cx="459.9" cy="407.6" r="1.78"/>
<circle class="p" cx="468.4" cy="409.0" r="1.78"/>
<circle class="p" cx="487.0" cy="409.0" r="1.78"/>
<circle class="p" cx="481.3" cy="409.0" r="1.78"/>
<circle class="p" cx="462.2" cy="410.2" r="1.78"/>
<circle class="p" cx="455.0" cy="410.7" r="1.78"/>
<circle class="p" cx="479.1" cy="411.3" r="1.78"/>
<circle class="p" cx="459.1" cy="411.9" r="1.78"/>
<circle class="p" cx="505.6" cy="413.0" r="1.78"/>
<circle class="p" cx="453.1" cy="413.3" r="1.78"/>
<circle class="p" cx="450.6" cy="414.1" r="1.78"/>
<circle class="p" cx="478.0" cy="413.8" r="1.78"/>
<circle class="p" cx="485.1" cy="414.4" r="1.78"/>
<circle class="p" cx="482.5" cy="415.2" r="1.78"/>
<circle class="p" cx="445.8" cy="416.4" r="1.78"/>
<circle class="p" cx="460.5" cy="414.7" r="1.78"/>
<circle class="p" cx="466.1" cy="415.2" r="1.78"/>
<circle class="p" cx="472.3" cy="416.4" r="1.78"/>
<circle class="p" cx="479.6" cy="416.9" r="1.78"/>
<circle class="p" cx="499.4" cy="415.8" r="1.78"/>
<circle class="p" cx="492.1" cy="416.4" r="1.78"/>
<circle class="p" cx="496.5" cy="418.0" r="1.78"/>
<circle class="p" cx="456.5" cy="418.1" r="1.78"/>
<circle class="p" cx="463.3" cy="417.5" r="1.78"/>
<circle class="p" cx="444.7" cy="418.1" r="1.78"/>
<circle class="p" cx="507.3" cy="418.1" r="1.78"/>
<circle class="p" cx="488.7" cy="419.8" r="1.78"/>
<circle class="p" cx="483.0" cy="418.6" r="1.78"/>
<circle class="p" cx="472.3" cy="420.2" r="1.78"/>
<circle class="p" cx="441.3" cy="421.8" r="1.78"/>
<circle class="p" cx="445.2" cy="421.3" r="1.78"/>
<circle class="p" cx="467.2" cy="423.0" r="1.78"/>
<circle class="p" cx="480.8" cy="423.0" r="1.78"/>
<circle class="p" cx="497.5" cy="421.8" r="1.78"/>
<circle class="p" cx="505.6" cy="421.3" r="1.78"/>
<circle class="p" cx="509.5" cy="425.8" r="1.78"/>
<circle class="p" cx="442.4" cy="424.7" r="1.78"/>
<circle class="p" cx="448.6" cy="423.5" r="1.78"/>
<circle class="p" cx="453.7" cy="424.7" r="1.78"/>
<circle class="p" cx="458.2" cy="425.2" r="1.78"/>
<circle class="p" cx="462.2" cy="426.9" r="1.78"/>
<circle class="p" cx="487.5" cy="421.8" r="1.78"/>
<circle class="p" cx="487.0" cy="424.7" r="1.78"/>
<circle class="p" cx="502.2" cy="427.2" r="1.78"/>
<circle class="p" cx="470.1" cy="427.5" r="1.78"/>
<circle class="p" cx="487.5" cy="427.5" r="1.78"/>
<circle class="p" cx="456.0" cy="428.6" r="1.78"/>
<circle class="p" cx="464.4" cy="429.2" r="1.78"/>
<circle class="p" cx="475.1" cy="428.6" r="1.78"/>
<circle class="p" cx="476.8" cy="429.7" r="1.78"/>
<circle class="p" cx="492.6" cy="430.1" r="1.78"/>
<circle class="p" cx="444.1" cy="430.6" r="1.78"/>
<circle class="p" cx="448.1" cy="431.4" r="1.78"/>
<circle class="p" cx="471.7" cy="431.4" r="1.78"/>
<circle class="p" cx="485.9" cy="430.9" r="1.78"/>
<circle class="p" cx="501.1" cy="432.6" r="1.78"/>
<circle class="p" cx="494.9" cy="432.3" r="1.78"/>
<circle class="p" cx="454.8" cy="432.6" r="1.78"/>
<circle class="p" cx="446.9" cy="434.3" r="1.78"/>
<circle class="p" cx="469.5" cy="434.3" r="1.78"/>
<circle class="p" cx="490.9" cy="433.7" r="1.78"/>
<circle class="p" cx="452.6" cy="436.0" r="1.78"/>
<circle class="p" cx="481.9" cy="436.0" r="1.78"/>
<circle class="p" cx="491.5" cy="436.5" r="1.78"/>
<circle class="p" cx="441.3" cy="436.9" r="1.78"/>
<circle class="p" cx="461.0" cy="436.7" r="1.78"/>
<circle class="p" cx="466.7" cy="437.1" r="1.78"/>
<circle class="p" cx="486.1" cy="437.1" r="1.78"/>
<circle class="p" cx="506.5" cy="437.1" r="1.78"/>
<circle class="p" cx="457.6" cy="438.8" r="1.78"/>
<circle class="p" cx="474.6" cy="439.3" r="1.78"/>
<circle class="p" cx="445.2" cy="440.5" r="1.78"/>
<circle class="p" cx="469.5" cy="440.5" r="1.78"/>
<circle class="p" cx="495.4" cy="441.3" r="1.78"/>
<circle class="p" cx="481.3" cy="441.8" r="1.78"/>
<circle class="p" cx="443.5" cy="442.7" r="1.78"/>
<circle class="p" cx="451.4" cy="442.2" r="1.78"/>
<circle class="p" cx="457.1" cy="442.2" r="1.78"/>
<circle class="p" cx="472.9" cy="442.7" r="1.78"/>
<circle class="p" cx="475.7" cy="443.3" r="1.78"/>
<circle class="p" cx="453.1" cy="443.9" r="1.78"/>
<circle class="p" cx="462.7" cy="444.4" r="1.78"/>
<circle class="p" cx="487.0" cy="443.9" r="1.78"/>
<circle class="p" cx="471.2" cy="445.5" r="1.78"/>
<circle class="p" cx="493.8" cy="447.5" r="1.78"/>
<circle class="p" cx="462.2" cy="448.6" r="1.78"/>
<circle class="p" cx="501.7" cy="450.8" r="1.78"/>
<circle class="p" cx="496.2" cy="454.3" r="1.78"/>
<circle class="p" cx="503.9" cy="454.6" r="1.78"/>
<circle class="p" cx="490.4" cy="459.9" r="1.78"/>
<circle class="p" cx="488.1" cy="461.0" r="1.78"/>
<circle class="p" cx="457.6" cy="461.7" r="1.78"/>
<circle class="p" cx="454.6" cy="462.8" r="1.78"/>
<circle class="p" cx="519.7" cy="408.3" r="1.78"/>
<circle class="p" cx="572.6" cy="406.7" r="1.78"/>
<circle class="p" cx="580.8" cy="404.5" r="1.78"/>
<circle class="p" cx="590.7" cy="408.0" r="1.78"/>
<circle class="p" cx="555.9" cy="409.4" r="1.78"/>
<circle class="p" cx="515.8" cy="413.9" r="1.78"/>
<circle class="p" cx="518.1" cy="412.8" r="1.78"/>
<circle class="p" cx="520.5" cy="419.1" r="1.78"/>
<circle class="p" cx="521.9" cy="421.7" r="1.78"/>
<circle class="p" cx="514.1" cy="422.7" r="1.78"/>
<circle class="p" cx="511.3" cy="424.4" r="1.78"/>
<circle class="p" cx="514.8" cy="424.4" r="1.78"/>
<circle class="p" cx="518.3" cy="423.4" r="1.78"/>
<circle class="p" cx="540.5" cy="423.4" r="1.78"/>
<circle class="p" cx="533.9" cy="424.4" r="1.78"/>
<circle class="p" cx="529.6" cy="425.5" r="1.78"/>
<circle class="p" cx="516.5" cy="433.2" r="1.78"/>
<circle class="p" cx="536.0" cy="434.7" r="1.78"/>
<circle class="p" cx="529.2" cy="436.8" r="1.78"/>
<circle class="p" cx="521.9" cy="439.6" r="1.78"/>
<circle class="p" cx="523.3" cy="439.3" r="1.78"/>
<circle class="p" cx="552.5" cy="438.9" r="1.78"/>
<circle class="p" cx="552.8" cy="439.2" r="1.78"/>
<circle class="p" cx="517.9" cy="451.6" r="1.78"/>
<circle class="p" cx="529.2" cy="454.7" r="1.78"/>
<circle class="p" cx="535.0" cy="453.7" r="1.78"/>
<circle class="p" cx="566.3" cy="456.8" r="1.78"/>
<circle class="p" cx="624.5" cy="400.4" r="1.78"/>
<circle class="p" cx="620.2" cy="408.7" r="1.78"/>
<circle class="p" cx="442.3" cy="423.2" r="1.78"/>
<circle class="p" cx="445.2" cy="423.9" r="1.78"/>
<circle class="p" cx="448.0" cy="423.2" r="1.78"/>
<circle class="p" cx="450.1" cy="424.6" r="1.78"/>
<circle class="p" cx="452.2" cy="424.2" r="1.78"/>
<circle class="p" cx="455.0" cy="425.3" r="1.78"/>
<circle class="p" cx="457.2" cy="426.0" r="1.78"/>
<circle class="p" cx="459.3" cy="426.7" r="1.78"/>
<circle class="p" cx="461.4" cy="427.0" r="1.78"/>
<circle class="p" cx="464.2" cy="428.5" r="1.78"/>
<circle class="p" cx="476.0" cy="429.2" r="1.78"/>
<circle class="p" cx="462.5" cy="415.5" r="1.78"/>
<circle class="p" cx="464.8" cy="417.0" r="1.78"/>
<circle class="p" cx="463.5" cy="418.8" r="1.78"/>
<circle class="p" cx="465.5" cy="419.5" r="1.78"/>
<circle class="p" cx="447.5" cy="432.8" r="1.78"/>
<circle class="p" cx="482.3" cy="435.6" r="1.78"/>
<circle class="p" cx="452.0" cy="443.0" r="1.78"/>
<circle class="p" cx="471.0" cy="441.5" r="1.78"/>
<circle class="p" cx="473.8" cy="441.0" r="1.78"/>
</g>
</svg></body></html>
